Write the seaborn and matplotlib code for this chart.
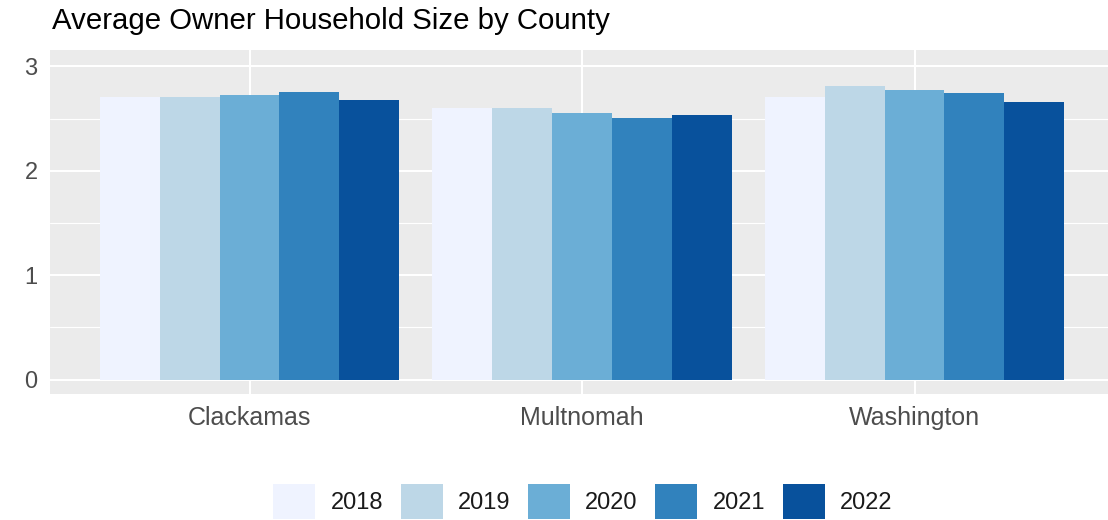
"""
Average owner household size by county, grouped bars per year.
"""

import pandas as pd
import matplotlib
matplotlib.use('Agg')
import matplotlib.pyplot as plt
import seaborn as sns

counties = ['Clackamas', 'Multnomah', 'Washington']
years = ['2018', '2019', '2020', '2021', '2022']

clackamas = [2.71, 2.71, 2.73, 2.75, 2.68]
multnomah = [2.60, 2.60, 2.55, 2.51, 2.53]
washington = [2.71, 2.81, 2.77, 2.74, 2.66]

colors = ['#EFF3FF', '#BDD7E7', '#6BAED6', '#3182BD', '#08519C']

# long format table for seaborn
rows = []
for county, vals in zip(counties, [clackamas, multnomah, washington]):
    for yr, v in zip(years, vals):
        rows.append({'county': county, 'year': yr, 'size': v})
df = pd.DataFrame(rows)

sns.set_style('darkgrid', {
    'axes.facecolor': '#EBEBEB',
    'grid.color': 'white',
})
plt.rcParams['font.family'] = ['Liberation Sans', 'DejaVu Sans']

fig = plt.figure(figsize=(11.08, 5.2), dpi=100)
ax = fig.add_axes([50 / 1108, 1 - 393.5 / 520, 1064 / 1108, 344 / 520])

sns.barplot(data=df, x='county', y='size', hue='year', hue_order=years,
            palette=colors, saturation=1, width=0.9, gap=0, errorbar=None,
            linewidth=0, ax=ax, zorder=3)

ax.set_xlim(-0.6, 2.6)
ax.set_ylim(-0.132, 3.161)
ax.set_yticks([0, 1, 2, 3])
ax.set_yticks([0.5, 1.5, 2.5], minor=True)
ax.grid(which='major', color='white', linewidth=1.5, zorder=0)
ax.grid(which='minor', axis='y', color='white', linewidth=0.8, zorder=0)
ax.set_axisbelow(True)
for s in ax.spines.values():
    s.set_visible(False)

ax.set_xlabel('')
ax.set_ylabel('')
ax.tick_params(axis='x', which='both', length=0, pad=9, labelsize=18, labelcolor='#4D4D4D')
ax.tick_params(axis='y', which='both', length=0, pad=9, labelsize=17, labelcolor='#4D4D4D')

fig.text(52 / 1108, 1 - 29 / 520, 'Average Owner Household Size by County',
         fontsize=21.2, color='black', ha='left', va='baseline')

handles, labels = ax.get_legend_handles_labels()
ax.get_legend().remove()
fig.legend(handles, labels, loc='center', bbox_to_anchor=(0.526, 0.036),
           ncol=5, frameon=False, fontsize=17, handlelength=1.78,
           handleheight=1.9, handletextpad=0.64, columnspacing=0.75,
           labelcolor='#1A1A1A')

plt.savefig('out.png', dpi=100)
plt.close()
